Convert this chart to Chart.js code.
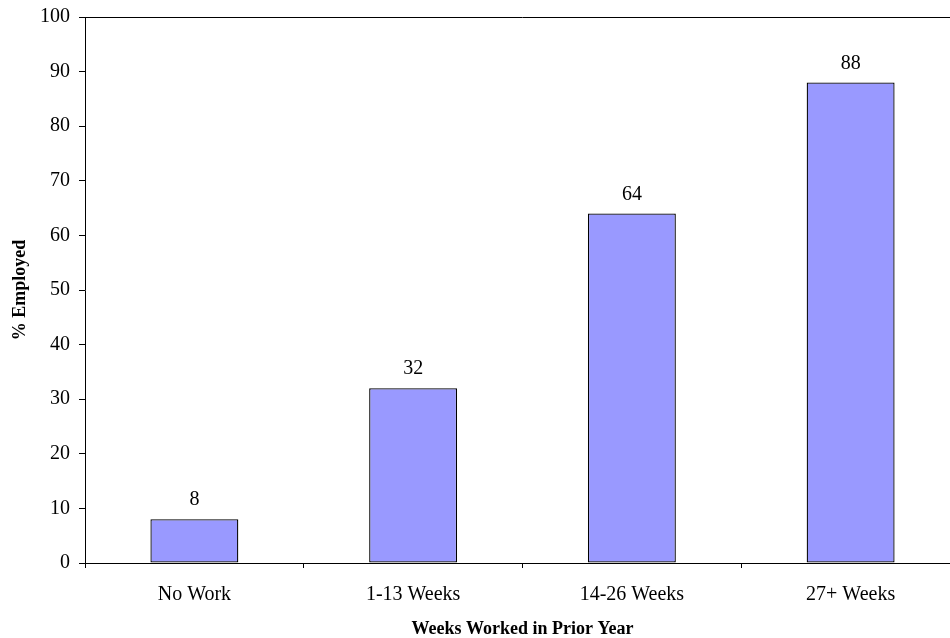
<!DOCTYPE html>
<html>
<head>
<meta charset="utf-8">
<script src="https://cdn.jsdelivr.net/npm/chart.js@4"></script>
<style>
  html, body { margin: 0; padding: 0; background: #ffffff; overflow: hidden; }
  #wrap { width: 950px; height: 638px; overflow: hidden; }
  canvas { display: block; }
</style>
</head>
<body>
<div id="wrap"><canvas id="c" width="980" height="638"></canvas></div>
<script>
// Share of people employed, by weeks worked in the prior year
const categories = ["No Work", "1-13 Weeks", "14-26 Weeks", "27+ Weeks"];
const pctEmployed = [8, 32, 64, 88];
const yTicks = [0, 10, 20, 30, 40, 50, 60, 70, 80, 90, 100];

const SERIF = "'Liberation Serif', 'Times New Roman', serif";

// Frame line along the top of the plot area
const topFrame = {
  id: 'topFrame',
  afterDraw(chart) {
    const { ctx, chartArea } = chart;
    ctx.save();
    ctx.strokeStyle = '#000000';
    ctx.lineWidth = 1;
    ctx.beginPath();
    ctx.moveTo(chartArea.left, Math.round(chartArea.top) + 0.5);
    ctx.lineTo(chartArea.right, Math.round(chartArea.top) + 0.5);
    ctx.stroke();
    ctx.restore();
  }
};

// Value printed above each bar
const valueLabels = {
  id: 'valueLabels',
  afterDatasetsDraw(chart) {
    const { ctx } = chart;
    const meta = chart.getDatasetMeta(0);
    const data = chart.data.datasets[0].data;
    ctx.save();
    ctx.fillStyle = '#000000';
    ctx.font = '20px ' + SERIF;
    ctx.textAlign = 'center';
    ctx.textBaseline = 'alphabetic';
    meta.data.forEach((bar, i) => {
      ctx.fillText(String(data[i]), bar.x, bar.y - 14);
    });
    ctx.restore();
  }
};

new Chart(document.getElementById('c'), {
  type: 'bar',
  data: {
    labels: categories,
    datasets: [{
      data: pctEmployed,
      backgroundColor: '#9999FF',
      borderColor: '#000000',
      borderWidth: 1.3,
      borderSkipped: false,
      barPercentage: 0.402,
      categoryPercentage: 1.0
    }]
  },
  options: {
    responsive: false,
    animation: false,
    layout: { padding: { left: 0, right: 20, top: 17, bottom: 0 } },
    plugins: {
      legend: { display: false },
      tooltip: { enabled: false }
    },
    scales: {
      x: {
        afterFit(scale) {
          scale.height = 75;
          scale.paddingLeft = 0;
          scale.paddingRight = 0;
        },
        grid: {
          display: true,
          offset: true,
          drawOnChartArea: false,
          drawTicks: true,
          tickLength: 5,
          color: '#000000'
        },
        border: { display: true, color: '#000000', width: 1 },
        ticks: {
          color: '#000000',
          font: { family: SERIF, size: 20 },
          padding: 15,
          maxRotation: 0
        },
        title: {
          display: true,
          text: 'Weeks Worked in Prior Year',
          color: '#000000',
          font: { family: SERIF, size: 18, weight: 'bold', lineHeight: 1.0 },
          padding: { top: 0, bottom: 0 }
        }
      },
      y: {
        min: 0,
        max: 100,
        afterFit(scale) {
          scale.width = 85;
          scale.paddingTop = 0;
          scale.paddingBottom = 0;
        },
        afterBuildTicks(scale) { scale.ticks = yTicks.map(v => ({ value: v })); },
        grid: {
          display: true,
          drawOnChartArea: false,
          drawTicks: true,
          tickLength: 6,
          color: '#000000'
        },
        border: { display: true, color: '#000000', width: 1 },
        ticks: {
          color: '#000000',
          font: { family: SERIF, size: 20 },
          padding: 9
        },
        title: {
          display: true,
          text: '% Employed',
          color: '#000000',
          font: { family: SERIF, size: 18, weight: 'bold' },
          padding: { top: 10, bottom: 0 }
        }
      }
    }
  },
  plugins: [topFrame, valueLabels]
});
</script>
</body>
</html>
